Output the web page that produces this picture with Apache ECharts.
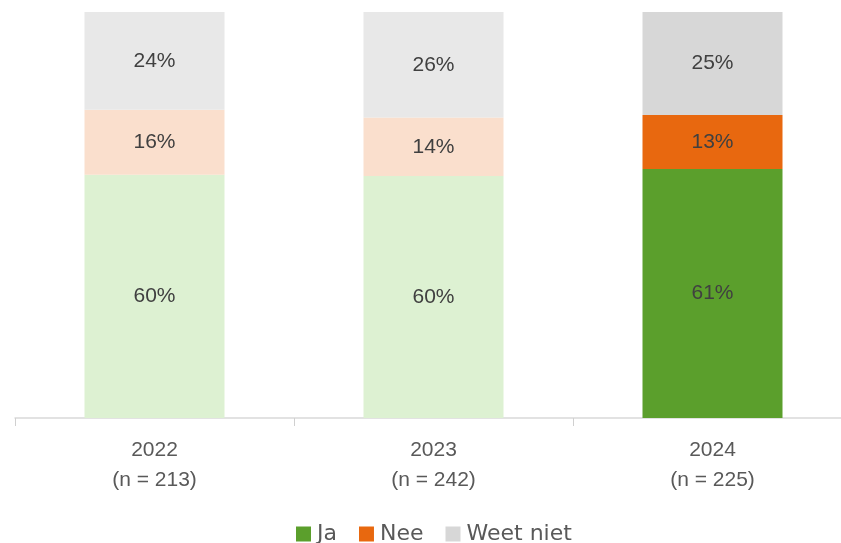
<!DOCTYPE html>
<html>
<head>
<meta charset="utf-8">
<script src="https://cdn.jsdelivr.net/npm/echarts@6/dist/echarts.min.js"></script>
<style>
  html, body { margin: 0; padding: 0; background: #fff; }
  #main { width: 841px; height: 543px; }
</style>
</head>
<body>
<div id="main"></div>
<script>
// categories and values
var years = ['2022\n(n = 213)', '2023\n(n = 242)', '2024\n(n = 225)'];
var ja = [59.9, 59.6, 61.3];
var nee = [16.0, 14.4, 13.3];
var weetNiet = [24.1, 26.0, 25.4];

// light shades for earlier years, full colour for the latest
var darkCol = { ja: '#5b9f2c', nee: '#e8680f', weet: '#d7d7d7' };
var lightCol = { ja: '#ddf1d2', nee: '#fadfcd', weet: '#e8e8e8' };

function items(vals, key) {
    return vals.map(function (v, i) {
        return {
            value: v,
            itemStyle: { color: i === vals.length - 1 ? darkCol[key] : lightCol[key] }
        };
    });
}

var labelStyle = {
    show: true,
    position: 'inside',
    color: '#404040',
    fontSize: 21,
    fontFamily: 'Liberation Sans',
    formatter: function (p) { return Math.round(p.value) + '%'; }
};

var myChart = echarts.init(document.getElementById('main'));
var option = {
    animation: false,
    grid: { left: 15, top: 12, width: 837, height: 406, outerBoundsMode: 'none' },
    legend: {
        top: 518,
        left: 291,
        itemWidth: 15,
        itemHeight: 15,
        itemGap: 22,
        icon: 'rect',
        textStyle: { color: '#595959', fontSize: 22, fontFamily: 'DejaVu Sans', padding: [0, 0, 0, 1] },
        data: ['Ja', 'Nee', 'Weet niet']
    },
    xAxis: {
        type: 'category',
        data: years,
        axisLine: { lineStyle: { color: '#d9d9d9', width: 1.5 } },
        axisTick: { show: true, length: 8, lineStyle: { color: '#d0d0d0' } },
        axisLabel: {
            color: '#595959',
            fontSize: 21,
            lineHeight: 30,
            margin: 17,
            fontFamily: 'Liberation Sans'
        }
    },
    yAxis: { type: 'value', min: 0, max: 100, show: false },
    series: [
        { name: 'Ja', type: 'bar', stack: 'a', barWidth: 140, color: darkCol.ja, data: items(ja, 'ja'), label: labelStyle },
        { name: 'Nee', type: 'bar', stack: 'a', barWidth: 140, color: darkCol.nee, data: items(nee, 'nee'), label: labelStyle },
        { name: 'Weet niet', type: 'bar', stack: 'a', barWidth: 140, color: darkCol.weet, data: items(weetNiet, 'weet'), label: labelStyle }
    ]
};
myChart.setOption(option);
</script>
</body>
</html>
